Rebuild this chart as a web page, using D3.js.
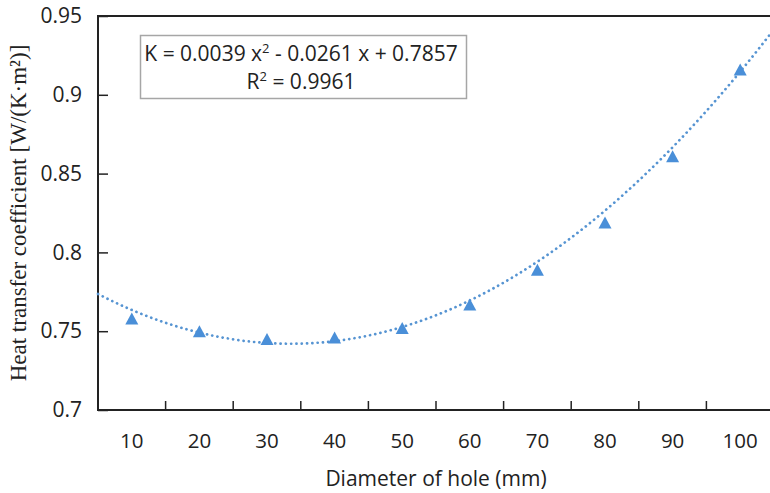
<!DOCTYPE html>
<html>
<head>
<meta charset="utf-8">
<script src="https://cdn.jsdelivr.net/npm/d3@7"></script>
<style>
  body { margin: 0; background: #fff; }
  svg { display: block; }
  .tick text { font-family: "Open Sans", sans-serif; fill: #222; }
</style>
</head>
<body>
<div id="chart"></div>
<script>
// hole diameters (mm) and measured heat transfer coefficients
const diameters = ['10', '20', '30', '40', '50', '60', '70', '80', '90', '100'];
const kValues = [0.758, 0.750, 0.745, 0.746, 0.752, 0.767, 0.789, 0.819, 0.861, 0.916];
const yTicks = [0.7, 0.75, 0.8, 0.85, 0.9, 0.95];
// polynomial trendline coefficients, as printed on the chart (x = point index)
const trendCoef = [0.7857, -0.0261, 0.0039];

const width = 770,
  height = 493,
  margin = {top: 16, right: -4, bottom: 83, left: 98};

const svg = d3.select('#chart').append('svg')
  .attr('width', width)
  .attr('height', height);

const x = d3.scaleBand()
  .domain(diameters)
  .range([margin.left, width - margin.right]);

// continuous version of the category axis for the trendline
const xIdx = d3.scaleLinear()
  .domain([0.5, diameters.length + 0.5])
  .range([margin.left, width - margin.right]);

const y = d3.scaleLinear()
  .domain([0.7, 0.95])
  .range([height - margin.bottom, margin.top]);

// y axis, ticks pointing inward
svg.append('g')
  .attr('transform', 'translate(' + margin.left + ',0)')
  .call(d3.axisLeft(y).tickValues(yTicks).tickSize(-10).tickPadding(16)
    .tickFormat(d3.format('')))
  .call(g => g.select('.domain').remove())
  .call(g => g.selectAll('.tick line').attr('stroke', '#222').attr('stroke-width', 1.5))
  .call(g => g.selectAll('.tick text').attr('font-size', 21));

// x axis labels (centered in bands)
svg.append('g')
  .attr('transform', 'translate(0,' + (height - margin.bottom) + ')')
  .call(d3.axisBottom(x).tickSize(0).tickPadding(23))
  .call(g => g.select('.domain').remove())
  .call(g => g.selectAll('.tick text').attr('font-size', 20.5));

// x ticks between categories
svg.append('g')
  .selectAll('line')
  .data(diameters.slice(0, -1))
  .enter().append('line')
  .attr('x1', d => x(d) + x.bandwidth())
  .attr('x2', d => x(d) + x.bandwidth())
  .attr('y1', y(0.7))
  .attr('y2', y(0.7) - 9)
  .attr('stroke', '#222')
  .attr('stroke-width', 1.5);

// plot frame
svg.append('rect')
  .attr('x', margin.left)
  .attr('y', margin.top)
  .attr('width', width - margin.right - margin.left)
  .attr('height', height - margin.bottom - margin.top)
  .attr('fill', 'none')
  .attr('stroke', '#222')
  .attr('stroke-width', 2);

// trendline
const trend = d3.range(0.5, diameters.length + 0.501, 0.05).map(t => [t,
  trendCoef[0] + trendCoef[1] * t + trendCoef[2] * t * t]);

svg.append('path')
  .datum(trend)
  .attr('fill', 'none')
  .attr('stroke', '#5694d2')
  .attr('stroke-width', 2.7)
  .attr('stroke-linecap', 'round')
  .attr('stroke-dasharray', '0.1 5.2')
  .attr('d', d3.line().x(d => xIdx(d[0])).y(d => y(d[1])));

// triangle markers
const tri = 'M0,-6L6.5,6L-6.5,6Z';
svg.append('g')
  .selectAll('path')
  .data(kValues)
  .enter().append('path')
  .attr('d', tri)
  .attr('transform', (d, i) => 'translate(' + (x(diameters[i]) + x.bandwidth() / 2) +
    ',' + y(d) + ')')
  .attr('fill', '#4a8fd8');

// equation label
const box = svg.append('g');
box.append('rect')
  .attr('x', 140.5)
  .attr('y', 35.5)
  .attr('width', 326)
  .attr('height', 63)
  .attr('fill', '#fff')
  .attr('stroke', '#a6a6a6')
  .attr('stroke-width', 1.5);

const eq = box.append('text')
  .attr('font-family', '"Open Sans", sans-serif')
  .attr('font-size', 21)
  .attr('fill', '#222')
  .attr('text-anchor', 'middle');

const l1 = eq.append('tspan').attr('x', 301).attr('y', 61);
l1.append('tspan').text('K = 0.0039 x');
l1.append('tspan').attr('font-size', 13).attr('dy', -8).text('2');
l1.append('tspan').attr('dy', 8).text(' - 0.0261 x + 0.7857');

const l2 = eq.append('tspan').attr('x', 301).attr('y', 89);
l2.append('tspan').text('R');
l2.append('tspan').attr('font-size', 13).attr('dy', -8).text('2');
l2.append('tspan').attr('dy', 8).text(' = 0.9961');

// axis titles
svg.append('text')
  .attr('x', 436)
  .attr('y', 486)
  .attr('text-anchor', 'middle')
  .attr('font-family', '"Open Sans", sans-serif')
  .attr('font-size', 21)
  .attr('fill', '#222')
  .text('Diameter of hole (mm)');

svg.append('text')
  .attr('transform', 'translate(26,213) rotate(-90)')
  .attr('text-anchor', 'middle')
  .attr('font-family', '"Liberation Serif", serif')
  .attr('font-size', 23)
  .attr('fill', '#222')
  .text('Heat transfer coefficient [W/(K\u00b7m\u00b2)]');
</script>
</body>
</html>
